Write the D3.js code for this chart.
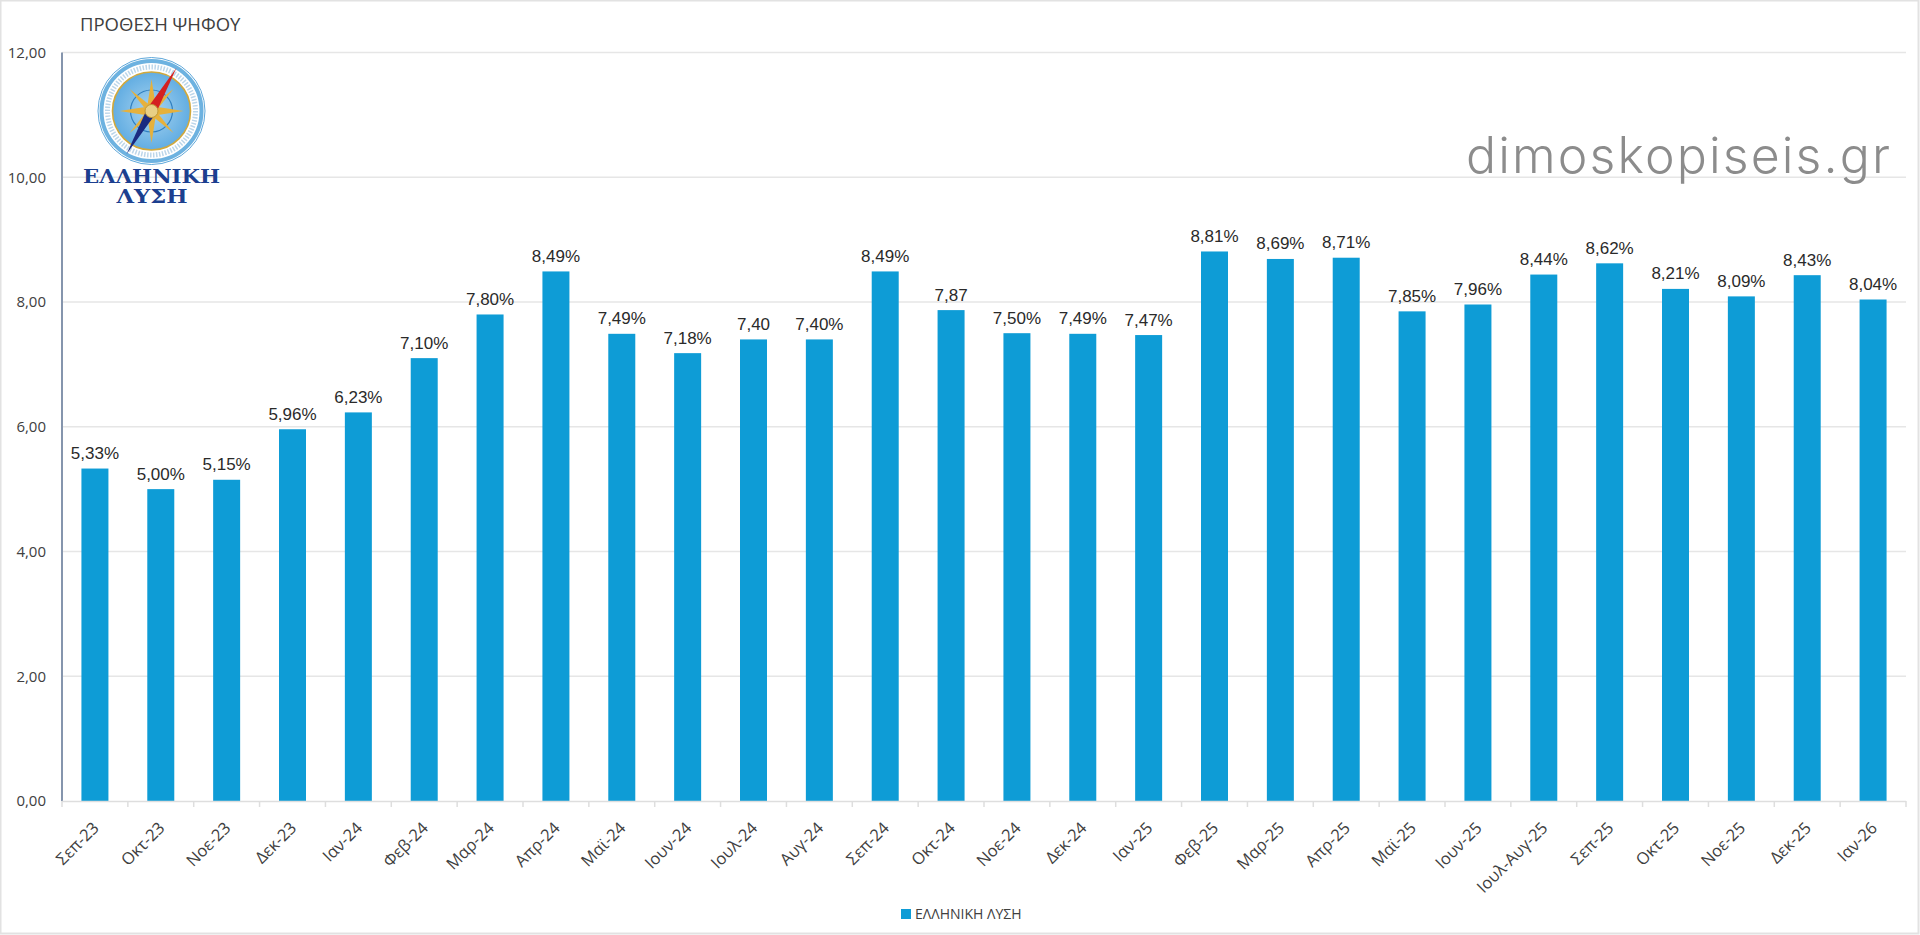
<!DOCTYPE html>
<html><head><meta charset="utf-8">
<script src="https://cdn.jsdelivr.net/npm/d3@7/dist/d3.min.js"></script>
<style>html,body{margin:0;padding:0;background:#fff;overflow:hidden}svg{display:block}</style>
</head><body><svg id="c" width="1920" height="935"></svg>
<script>
const categories=["Σεπ-23","Οκτ-23","Νοε-23","Δεκ-23","Ιαν-24","Φεβ-24","Μαρ-24","Απρ-24","Μαϊ-24","Ιουν-24","Ιουλ-24","Αυγ-24","Σεπ-24","Οκτ-24","Νοε-24","Δεκ-24","Ιαν-25","Φεβ-25","Μαρ-25","Απρ-25","Μαϊ-25","Ιουν-25","Ιουλ-Αυγ-25","Σεπ-25","Οκτ-25","Νοε-25","Δεκ-25","Ιαν-26"];
const values=[5.33,5.00,5.15,5.96,6.23,7.10,7.80,8.49,7.49,7.18,7.40,7.40,8.49,7.87,7.50,7.49,7.47,8.81,8.69,8.71,7.85,7.96,8.44,8.62,8.21,8.09,8.43,8.04];
const dataLabels=["5,33%","5,00%","5,15%","5,96%","6,23%","7,10%","7,80%","8,49%","7,49%","7,18%","7,40","7,40%","8,49%","7,87","7,50%","7,49%","7,47%","8,81%","8,69%","8,71%","7,85%","7,96%","8,44%","8,62%","8,21%","8,09%","8,43%","8,04%"];
const yTicks=[0,2,4,6,8,10,12];
const titleText="ΠΡΟΘΕΣΗ ΨΗΦΟΥ", seriesName="ΕΛΛΗΝΙΚΗ ΛΥΣΗ", watermark="dimoskopiseis.gr";

const svg=d3.select("#c");
const L=62,R=1906,T=52.5,B=801;
const axisFont="'Open Sans',sans-serif", labelFont="'Liberation Sans',Arial,sans-serif";
const x=d3.scaleBand().domain(categories).range([L,R]).paddingInner(1-27/65.86).paddingOuter((1-27/65.86)/2);
const y=d3.scaleLinear().domain([0,12]).range([B,T]);

svg.append("rect").attr("x",0.5).attr("y",0.5).attr("width",1918).attr("height",933).attr("fill","#fff").attr("stroke","#e2e2e2").attr("stroke-width",2);

// gridlines
svg.append("g").selectAll("line").data(yTicks.filter(d=>d>0)).join("line")
 .attr("x1",L).attr("x2",R).attr("y1",d=>y(d)).attr("y2",d=>y(d)).attr("stroke","#e6e6e6").attr("stroke-width",1.4);

// y labels
const yAxis=d3.axisLeft(y).tickValues(yTicks).tickSize(0).tickPadding(16).tickFormat(d=>d3.format(".2f")(d).replace(".",","));
const gy=svg.append("g").attr("transform",`translate(${L},0)`).call(yAxis);
gy.select(".domain").remove();
gy.selectAll("text").attr("font-family",axisFont).attr("font-size",15).attr("fill","#404040");

// bars
svg.append("g").selectAll("rect").data(values).join("rect")
 .attr("x",(d,i)=>x(categories[i])).attr("width",x.bandwidth())
 .attr("y",d=>y(d)).attr("height",d=>B-y(d)).attr("fill","#0e9cd6");

// data labels
svg.append("g").selectAll("text").data(values).join("text")
 .attr("x",(d,i)=>x(categories[i])+x.bandwidth()/2).attr("y",d=>y(d)-9.5)
 .attr("text-anchor","middle").attr("font-family",labelFont).attr("font-size",17).attr("fill","#2a2a2a")
 .text((d,i)=>dataLabels[i]);

// y axis line
svg.append("line").attr("x1",L).attr("x2",L).attr("y1",T).attr("y2",B).attr("stroke","#8595ad").attr("stroke-width",2);

// x axis line and ticks
const xg=svg.append("g");
xg.append("line").attr("x1",L).attr("x2",R).attr("y1",B+0.5).attr("y2",B+0.5).attr("stroke","#dedede").attr("stroke-width",1.5);
const step=x.step();
xg.selectAll("line.t").data(d3.range(categories.length+1)).join("line").attr("class","t")
 .attr("x1",i=>L+i*step).attr("x2",i=>L+i*step).attr("y1",B).attr("y2",B+6).attr("stroke","#dedede").attr("stroke-width",1.5);
xg.selectAll("text").data(categories).join("text")
 .attr("text-anchor","end").attr("font-family",axisFont).attr("font-size",16.5).attr("fill","#404040")
 .attr("transform",d=>`translate(${x(d)+x.bandwidth()/2-2},${B+21}) rotate(-45)`).attr("dy","0.6em")
 .text(d=>d);

// title
svg.append("text").attr("x",80).attr("y",31).attr("font-family",axisFont).attr("font-size",18.5).attr("fill","#404040").text(titleText);

// legend
svg.append("rect").attr("x",901).attr("y",909).attr("width",10).attr("height",10).attr("fill","#0e9cd6");
svg.append("text").attr("x",915).attr("y",919).attr("font-family",axisFont).attr("font-size",14).attr("fill","#404040").text(seriesName);

// watermark
svg.append("text").attr("x",1466).attr("y",173).attr("font-family","Inter,sans-serif").attr("font-weight",300).attr("font-size",50).attr("textLength",424).attr("lengthAdjust","spacing").attr("fill","#8c8c8c").text(watermark);

// logo
const logo=svg.append("g").attr("transform","translate(151.5,111)");
logo.append("circle").attr("r",53.5).attr("fill","#fff").attr("stroke","#5fa8da").attr("stroke-width",1);
logo.append("circle").attr("r",50).attr("fill","none").attr("stroke","#6db2e0").attr("stroke-width",4);
logo.append("circle").attr("r",44).attr("fill","none").attr("stroke","#bcd6ea").attr("stroke-width",5).attr("stroke-dasharray","1.5 1.5");
const defs=svg.append("defs");
const rg=defs.append("radialGradient").attr("id","lg");
rg.append("stop").attr("offset","0").attr("stop-color","#a8d4f0");
rg.append("stop").attr("offset","1").attr("stop-color","#62ade2");
logo.append("circle").attr("r",39).attr("fill","url(#lg)").attr("stroke","#d0a83c").attr("stroke-width",1.6);
logo.append("circle").attr("r",21).attr("fill","none").attr("stroke","#2f7fc0").attr("stroke-width",1.2);
const ray=(a,l,w)=>logo.append("path").attr("d",`M0,-${l}L${w},0L0,${w}L-${w},0Z`).attr("transform",`rotate(${a})`).attr("fill","#e6b13c");
[0,90,180,270].forEach(a=>ray(a,32,5));
[45,135,225,315].forEach(a=>ray(a,31,3.6));
logo.append("path").attr("d","M0,-50L5,0L-5,0Z").attr("transform","rotate(30)").attr("fill","#d42020");
logo.append("path").attr("d","M0,50L5,0L-5,0Z").attr("transform","rotate(30)").attr("fill","#1a2a80");
logo.append("circle").attr("r",6.5).attr("fill","#e8cf86").attr("stroke","#c09a3a");
svg.append("text").attr("x",151.5).attr("y",183).attr("text-anchor","middle").attr("font-family","'DejaVu Serif',serif").attr("font-weight",700).attr("font-size",18.5).attr("textLength",137).attr("lengthAdjust","spacingAndGlyphs").attr("fill","#1c3f8f").text("ΕΛΛΗΝΙΚΗ");
svg.append("text").attr("x",152).attr("y",203).attr("text-anchor","middle").attr("font-family","'DejaVu Serif',serif").attr("font-weight",700).attr("font-size",18.5).attr("textLength",71).attr("lengthAdjust","spacingAndGlyphs").attr("fill","#1c3f8f").text("ΛΥΣΗ");
</script></body></html>
